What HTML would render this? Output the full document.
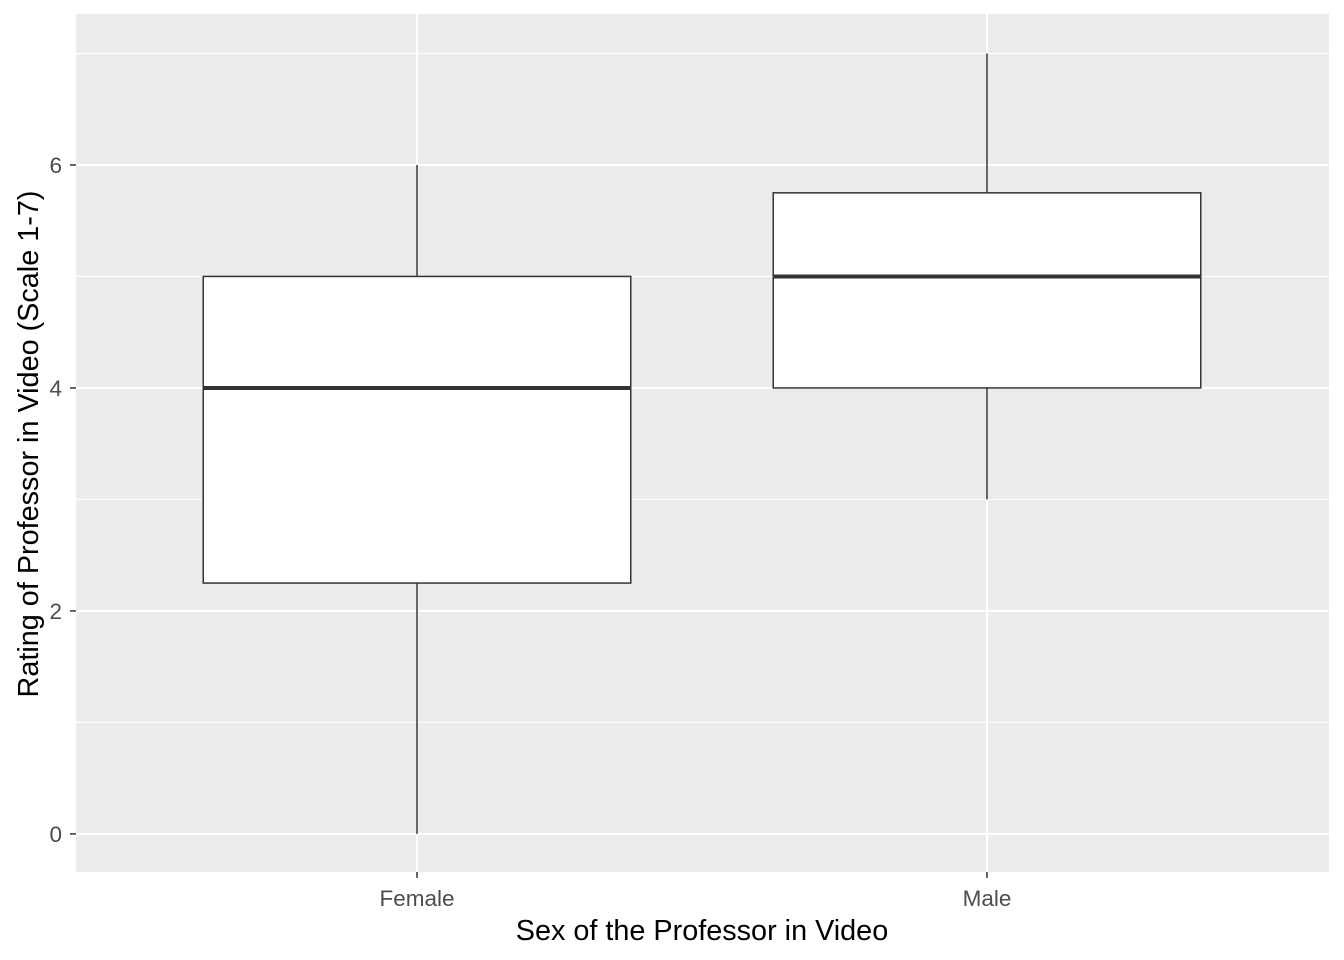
<!DOCTYPE html>
<html><head><meta charset="utf-8"><style>
body{margin:0;background:#fff;}
svg{display:block;font-family:"Liberation Sans",Arial,sans-serif;}
</style></head><body>
<svg id="chart" width="1344" height="960"></svg>
<script>
const categories = ["Female","Male"];
const mins = [0, 3];
const q1s = [2.25, 4];
const medians = [4, 5];
const q3s = [5, 5.75];
const maxs = [6, 7];
const yTicks = [0, 2, 4, 6];
const yMinor = [1, 3, 5, 7];

const NS = "http://www.w3.org/2000/svg";
const svg = document.getElementById("chart");
const P = {l:76, r:1329, t:14, b:872};
const yDomain = [-0.3417, 7.354];
function y(v){ return P.b - (v - yDomain[0])/(yDomain[1]-yDomain[0])*(P.b-P.t); }
const xStep = 570, x0 = 417;
function x(i){ return x0 + i*xStep; }
function mk(tag, attrs, parent){
  const e = document.createElementNS(NS, tag);
  for (const k in attrs) e.setAttribute(k, attrs[k]);
  (parent||svg).appendChild(e); return e;
}
const bg = mk("rect",{x:P.l,y:P.t,width:P.r-P.l,height:P.b-P.t,fill:"#ebebeb"});


yMinor.forEach(v=>{
  const l = mk("line",{x1:P.l,x2:P.r,y1:y(v),y2:y(v),stroke:"#fff","stroke-width":1});
  
  
});
yTicks.forEach(v=>{
  const l = mk("line",{x1:P.l,x2:P.r,y1:y(v),y2:y(v),stroke:"#fff","stroke-width":2});
  
  
  const t = mk("line",{x1:P.l-6,x2:P.l,y1:y(v),y2:y(v),stroke:"#333","stroke-width":1.5});
  
  
  const tx = mk("text",{x:P.l-14,y:y(v)+8,"text-anchor":"end","font-size":"22.5",fill:"#4d4d4d"});
  tx.textContent = v;
  
  
});
categories.forEach((c,i)=>{
  const cx = x(i);
  const g = mk("line",{x1:cx,x2:cx,y1:P.t,y2:P.b,stroke:"#fff","stroke-width":2});
  
  
  const t = mk("line",{x1:cx,x2:cx,y1:P.b,y2:P.b+6,stroke:"#333","stroke-width":1.5});
  
  
  const tx = mk("text",{x:cx,y:906,"text-anchor":"middle","font-size":"22.5",fill:"#4d4d4d"});
  tx.textContent = c;
  
  
  const hw = 0.375*xStep;
  const w1 = mk("line",{x1:cx,x2:cx,y1:y(maxs[i]),y2:y(q3s[i]),stroke:"#333","stroke-width":1.5});
  
  
  const w2 = mk("line",{x1:cx,x2:cx,y1:y(q1s[i]),y2:y(mins[i]),stroke:"#333","stroke-width":1.5});
  
  
  const b = mk("rect",{x:cx-hw,y:y(q3s[i]),width:2*hw,height:y(q1s[i])-y(q3s[i]),fill:"#fff",stroke:"#333","stroke-width":1.5});
  
  
  const m = mk("line",{x1:cx-hw,x2:cx+hw,y1:y(medians[i]),y2:y(medians[i]),stroke:"#333","stroke-width":4});
  
  
});
const xt = mk("text",{x:702,y:940,"text-anchor":"middle","font-size":"28.8",fill:"#000"});
xt.textContent = "Sex of the Professor in Video";


const yt = mk("text",{x:0,y:0,"text-anchor":"middle","font-size":"28.8",fill:"#000",transform:"translate(38,444) rotate(-90)"});
yt.textContent = "Rating of Professor in Video (Scale 1-7)";


</script>
</body></html>
